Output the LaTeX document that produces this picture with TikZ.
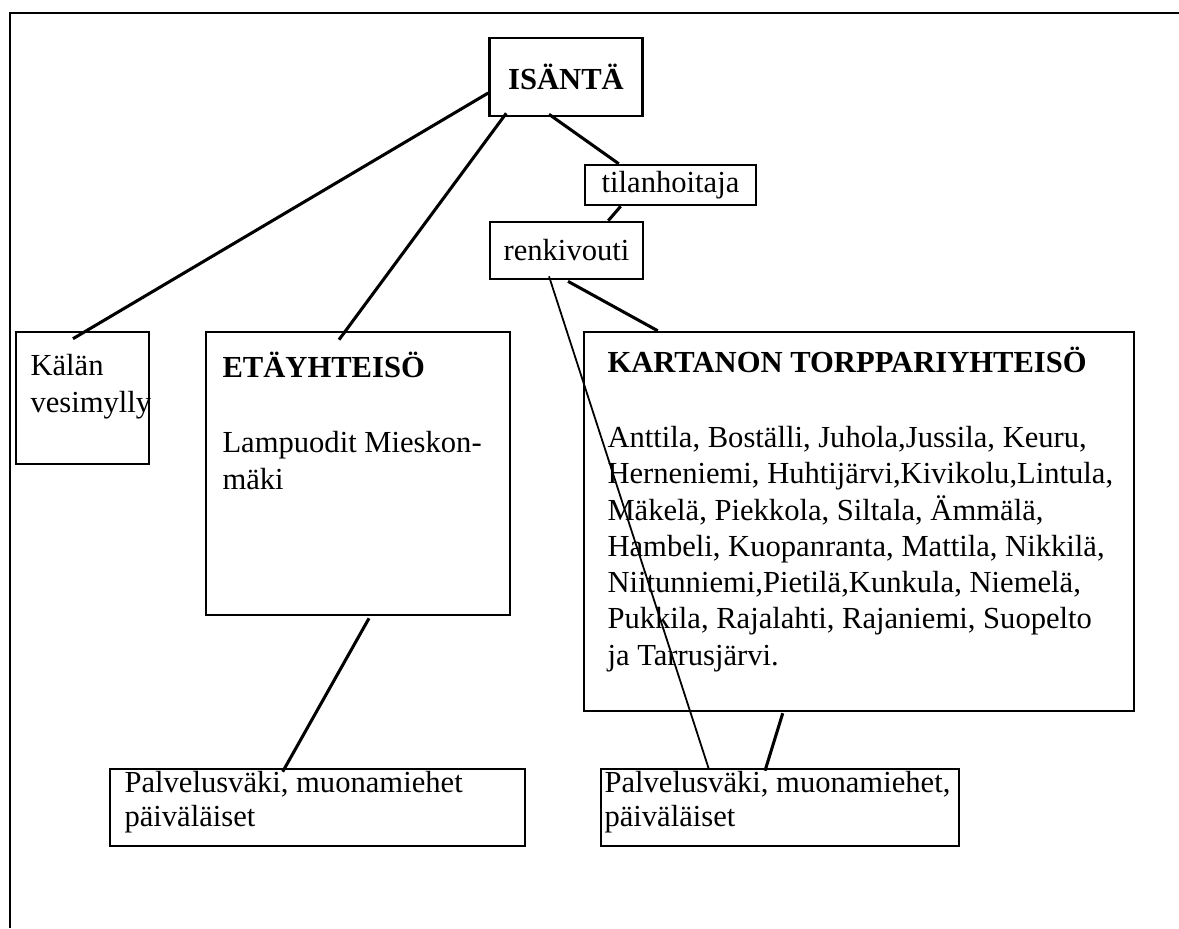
\documentclass[tikz,border=0pt]{standalone}
\usepackage{fontspec}
\setmainfont{Liberation Serif}
\usetikzlibrary{calc}

\begin{document}
\begin{tikzpicture}[
    x=0.3922pt, y=-0.3922pt,
    box/.style={rectangle,draw,line width=1pt,inner sep=0pt,font=\fontsize{12}{14.2}\selectfont},
    txt/.style={inner sep=0pt,align=left,anchor=base west,font=\fontsize{12}{14.2}\selectfont},
    tie/.style={line width=1.2pt},
    thintie/.style={line width=0.7pt}
]
    \useasboundingbox (0,0) rectangle (1179,928);
    % scanned frame: only top and left edges show
    \draw[line width=1pt] (1179,13) -- (10,13) -- (10,928);

    \node[box,minimum width=60pt,minimum height=30.6pt] (isanta) at (566,77)    {\textbf{ISÄNTÄ}};
    \node[box,minimum width=67.1pt,minimum height=15.7pt] (tilan) at (670.5,185) {tilanhoitaja};
    \node[box,minimum width=60pt,minimum height=22.4pt] (renki) at (566.5,250.5) {renkivouti};

    \node[box,minimum width=52.2pt,minimum height=51.8pt] (kala) at (82.5,398)   {};
    \node[box,minimum width=119.2pt,minimum height=111pt] (etay) at (358,473.5)  {};
    \node[box,minimum width=215.7pt,minimum height=148.6pt] (kart) at (859,521.5) {};
    \node[box,minimum width=162.8pt,minimum height=30.2pt] (palv1) at (317.5,807.5) {};
    \node[box,minimum width=140.4pt,minimum height=30.2pt] (palv2) at (780,807.5) {};

    % text blocks sit on the baseline of their last line
    \node[txt] (kalatxt) at (30,412) {Kälän\\vesimylly};
    \node[txt] (etaytxt) at (222,489) {\textbf{ETÄYHTEISÖ}\\[15.5pt]Lampuodit Mieskon-\\mäki};
    \node[txt] (karttxt) at (607,665) {\textbf{KARTANON TORPPARIYHTEISÖ}\\[15.5pt]%
        Anttila, Boställi, Juhola,Jussila, Keuru,\\Herneniemi, Huhtijärvi,Kivikolu,Lintula,\\%
        Mäkelä, Piekkola, Siltala, Ämmälä,\\Hambeli, Kuopanranta, Mattila, Nikkilä,\\%
        Niitunniemi,Pietilä,Kunkula, Niemelä,\\Pukkila, Rajalahti, Rajaniemi, Suopelto\\%
        ja Tarrusjärvi.};
    \node[txt] (palv1txt) at (124,826) {Palvelusväki, muonamiehet\\[-1.2pt]päiväläiset};
    \node[txt] (palv2txt) at (604,826) {Palvelusväki, muonamiehet,\\[-1.2pt]päiväläiset};

    \draw[tie] ($(isanta.west)+(0,16)$) -- ($(kala.north)+(-9.5,8)$);
    \draw[tie] ($(isanta.south west)+(18,-4)$) -- ($(etay.north)+(-19,9)$);
    \draw[tie] ($(isanta.south)+(-17,-3)$) -- ($(tilan.north west)+(35,0)$);
    \draw[tie] ($(tilan.south west)+(37,0)$) -- ($(renki.north east)+(-36,0)$);
    \draw[tie] ($(renki.south)+(1.5,1)$) -- ($(kart.north west)+(75,0)$);
    \draw[thintie] ($(renki.south)+(-17.5,-4)$) -- ($(palv2.north west)+(109,1)$);
    \draw[tie] ($(etay.south)+(11,2)$) -- ($(palv1.north west)+(174,4)$);
    \draw[tie] ($(kart.south west)+(200,1)$) -- ($(palv2.north)+(-15,3)$);
\end{tikzpicture}
\end{document}
